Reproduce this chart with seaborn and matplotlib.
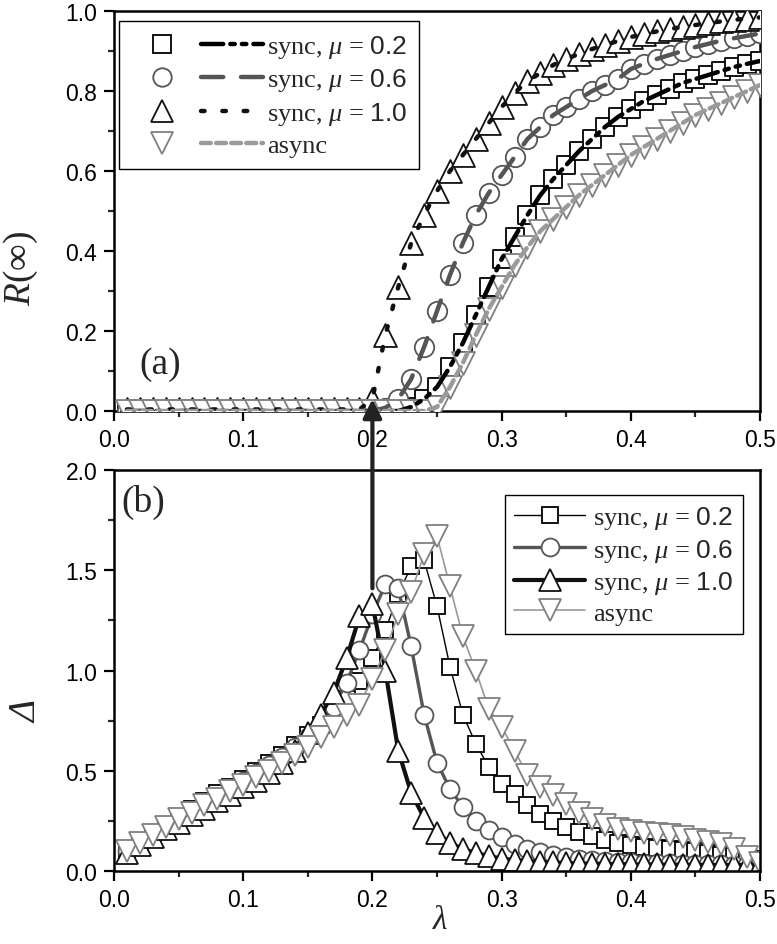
import matplotlib
matplotlib.use("Agg")
import matplotlib.pyplot as plt
import seaborn as sns
import pandas as pd
from matplotlib.lines import Line2D
from matplotlib.legend_handler import HandlerTuple
from matplotlib.patches import ConnectionPatch
from matplotlib.ticker import MultipleLocator, FormatStrFormatter

# lambda grid (spreading rate)
lam = [0.01, 0.02, 0.03, 0.04, 0.05, 0.06, 0.07, 0.08, 0.09, 0.10,
       0.11, 0.12, 0.13, 0.14, 0.15, 0.16, 0.17, 0.18, 0.19, 0.20,
       0.21, 0.22, 0.23, 0.24, 0.25, 0.26, 0.27, 0.28, 0.29, 0.30,
       0.31, 0.32, 0.33, 0.34, 0.35, 0.36, 0.37, 0.38, 0.39, 0.40,
       0.41, 0.42, 0.43, 0.44, 0.45, 0.46, 0.47, 0.48, 0.49, 0.50]

# (a) final outbreak size R(inf)
r_sync_02 = [0.0] * 22 + [0.01, 0.03, 0.06, 0.11, 0.17, 0.24, 0.31, 0.38, 0.435, 0.49,
                           0.54, 0.58, 0.615, 0.65, 0.68, 0.71, 0.735, 0.755, 0.775, 0.79,
                           0.805, 0.82, 0.83, 0.84, 0.85, 0.86, 0.868, 0.875]
r_sync_06 = [0.0] * 20 + [0.008, 0.03, 0.08, 0.16, 0.25, 0.34, 0.42, 0.49, 0.545, 0.59,
                           0.635, 0.68, 0.71, 0.74, 0.76, 0.78, 0.80, 0.815, 0.83, 0.855,
                           0.868, 0.88, 0.89, 0.90, 0.91, 0.918, 0.926, 0.932, 0.938, 0.944]
r_sync_10 = [0.004] * 19 + [0.03, 0.19, 0.31, 0.42, 0.49, 0.55, 0.60, 0.64, 0.68, 0.72,
                             0.76, 0.795, 0.825, 0.845, 0.865, 0.88, 0.893, 0.905, 0.915, 0.925,
                             0.935, 0.942, 0.949, 0.955, 0.96, 0.965, 0.97, 0.974, 0.978, 0.981,
                             0.984]
r_async = [0.0] * 24 + [0.01, 0.06, 0.12, 0.19, 0.255, 0.31, 0.365, 0.41, 0.45, 0.48,
                         0.51, 0.54, 0.565, 0.59, 0.615, 0.64, 0.66, 0.68, 0.70, 0.72,
                         0.74, 0.755, 0.77, 0.785, 0.80, 0.815]

# (b) variability Delta
d_sync_02 = [0.10, 0.15, 0.19, 0.23, 0.27, 0.31, 0.35, 0.39, 0.42, 0.46,
             0.50, 0.54, 0.58, 0.63, 0.68, 0.73, 0.79, 0.86, 0.95, 1.06,
             1.20, 1.38, 1.52, 1.55, 1.32, 1.02, 0.78, 0.635, 0.52, 0.435,
             0.385, 0.33, 0.285, 0.25, 0.22, 0.195, 0.175, 0.155, 0.14, 0.13,
             0.12, 0.115, 0.11, 0.105, 0.10, 0.09, 0.08, 0.075, 0.07, 0.06]
d_sync_06 = [0.10, 0.14, 0.18, 0.22, 0.26, 0.30, 0.34, 0.37, 0.41, 0.45,
             0.49, 0.53, 0.57, 0.62, 0.67, 0.74, 0.82, 0.94, 1.10, 1.28,
             1.43, 1.41, 1.12, 0.78, 0.54, 0.41, 0.32, 0.25, 0.205, 0.17,
             0.135, 0.11, 0.095, 0.08, 0.07, 0.062, 0.055, 0.05, 0.047, 0.044,
             0.042, 0.04, 0.038, 0.036, 0.035, 0.034, 0.033, 0.032, 0.031, 0.03]
d_sync_10 = [0.09, 0.13, 0.17, 0.21, 0.24, 0.28, 0.31, 0.35, 0.38, 0.42,
             0.45, 0.49, 0.54, 0.60, 0.69, 0.78, 0.89, 1.06, 1.27, 1.33,
             1.00, 0.60, 0.39, 0.265, 0.19, 0.14, 0.11, 0.09, 0.075, 0.062,
             0.055, 0.05, 0.046, 0.043, 0.04, 0.038, 0.037, 0.036, 0.035, 0.034,
             0.033, 0.033, 0.032, 0.032, 0.031, 0.031, 0.03, 0.03, 0.03, 0.03]
d_async = [0.10, 0.14, 0.18, 0.22, 0.26, 0.29, 0.33, 0.36, 0.40, 0.43,
           0.47, 0.50, 0.54, 0.58, 0.62, 0.67, 0.72, 0.78, 0.83, 0.96,
           1.10, 1.28, 1.39, 1.58, 1.67, 1.42, 1.17, 1.00, 0.81, 0.72,
           0.60, 0.48, 0.42, 0.38, 0.335, 0.29, 0.26, 0.23, 0.21, 0.20,
           0.19, 0.185, 0.18, 0.17, 0.155, 0.145, 0.135, 0.11, 0.07, 0.04]

labels = ['sync, $\\mu$ = $\\mathsf{0.2}$', 'sync, $\\mu$ = $\\mathsf{0.6}$',
          'sync, $\\mu$ = $\\mathsf{1.0}$', 'async']

df_r = pd.DataFrame({'lam': lam, 's02': r_sync_02, 's06': r_sync_06,
                     's10': r_sync_10, 'as': r_async})
df_d = pd.DataFrame({'lam': lam, 's02': d_sync_02, 's06': d_sync_06,
                     's10': d_sync_10, 'as': d_async})

sns.set_style('ticks')
plt.rcParams['font.family'] = ['Liberation Sans', 'DejaVu Sans']
plt.rcParams['mathtext.fontset'] = 'custom'
plt.rcParams['mathtext.rm'] = 'Liberation Serif'
plt.rcParams['mathtext.it'] = 'Liberation Serif:italic'
plt.rcParams['mathtext.sf'] = 'Liberation Sans'

fig = plt.figure(figsize=(7.77, 9.45), dpi=100)
ax_top = fig.add_axes([0.1467, 0.564, 0.8315, 0.4233])
ax_bot = fig.add_axes([0.1467, 0.0772, 0.8315, 0.4244])

# column, marker, marker size, marker edge colour, line colour, line width, dash pattern (top)
styles = [
    ('s02', 's', 13.0, '#000000', '#000000', 1.0, (5, 1.6, 1, 1.6, 1, 1.6)),
    ('s06', 'o', 14.0, '#555555', '#555555', 2.4, (5, 4)),
    ('s10', '^', 16.5, '#111111', '#111111', 3.0, (0.8, 4)),
    ('as', 'v', 16.5, '#808080', '#9a9a9a', 1.2, (2.2, 1.2)),
]

# ---- panel (a): markers, then dashed curves on top
for col, mk, ms, ec, lc, lw, dash in styles:
    sns.scatterplot(data=df_r, x='lam', y=col, ax=ax_top, marker=mk, s=ms ** 2,
                    color='white', edgecolor=ec, linewidth=1.3, zorder=3, legend=False,
                    clip_on=True)
top_handles = []
for col, mk, ms, ec, lc, lw, dash in styles:
    sns.lineplot(data=df_r, x='lam', y=col, ax=ax_top, color=lc, lw=3.2,
                 dashes=False, zorder=4)
    ln = ax_top.lines[-1]
    ln.set_dashes(dash)
    ln.set_dash_capstyle('round')
    mh = Line2D([], [], marker=mk, ls='none', mfc='white', mec=ec, ms=ms * 0.95, mew=1.3)
    lh = Line2D([], [], color=lc, lw=3.2, dashes=dash, dash_capstyle='round')
    top_handles.append((mh, lh))

ax_top.legend(top_handles, labels, loc='upper left', bbox_to_anchor=(0.1532, 0.9767),
              bbox_transform=fig.transFigure, borderaxespad=0, frameon=True, fancybox=False,
              edgecolor='black', framealpha=1, prop={'family': 'Liberation Serif', 'size': 19},
              handler_map={tuple: HandlerTuple(ndivide=None, pad=0.3)},
              handlelength=5.0, handletextpad=0.15, labelspacing=0.25, borderpad=0.45)

# ---- panel (b): simulation lines with open markers
for (col, mk, ms, ec, lc, lw, dash), lab in zip(styles, labels):
    sns.lineplot(data=df_d, x='lam', y=col, ax=ax_bot, color=lc, lw=lw, marker=mk,
                 markersize=ms * 0.92, markerfacecolor='white', markeredgecolor=ec,
                 markeredgewidth=1.3, label=lab)

ax_bot.legend(loc='upper right', bbox_to_anchor=(0.9562, 0.4751), bbox_transform=fig.transFigure,
              borderaxespad=0, frameon=True, fancybox=False, edgecolor='black', framealpha=1,
              prop={'family': 'Liberation Serif', 'size': 19}, handlelength=2.7,
              handletextpad=0.3, labelspacing=0.2, borderpad=0.35)

# ---- axes cosmetics
for ax, ymax, ystep in [(ax_top, 1.0, 0.2), (ax_bot, 2.0, 0.5)]:
    ax.set_xlim(0, 0.5)
    ax.set_ylim(0, ymax)
    ax.xaxis.set_major_locator(MultipleLocator(0.1))
    ax.xaxis.set_minor_locator(MultipleLocator(0.05))
    ax.yaxis.set_major_locator(MultipleLocator(ystep))
    ax.yaxis.set_minor_locator(MultipleLocator(ystep / 2))
    ax.xaxis.set_major_formatter(FormatStrFormatter('%.1f'))
    ax.yaxis.set_major_formatter(FormatStrFormatter('%.1f'))
    ax.tick_params(which='major', direction='out', length=7, width=1.6, labelsize=16.5, pad=5,
                   top=False, right=False, colors='black')
    ax.tick_params(which='minor', direction='out', length=4, width=1.6, top=False, right=False)
    for sp in ax.spines.values():
        sp.set_linewidth(1.8)
        sp.set_color('black')
    ax.set_xlabel('')
    ax.set_ylabel('')

ax_top.set_ylabel('$R$(∞)', fontsize=27, family='Liberation Serif')
ax_top.yaxis.set_label_coords(-0.115, 0.36)
ax_bot.set_ylabel('Δ', fontsize=27, family='Liberation Serif', style='italic')
ax_bot.yaxis.set_label_coords(-0.108, 0.40)
ax_bot.set_xlabel('λ', fontsize=24, family='Liberation Serif', style='italic')
ax_bot.xaxis.label.set_va('center')
ax_bot.xaxis.set_label_coords(0.505, -0.122)

ax_top.text(0.04, 0.075, '(a)', transform=ax_top.transAxes, fontsize=27,
            family='Liberation Serif', va='bottom', ha='left')
ax_bot.text(0.012, 0.965, '(b)', transform=ax_bot.transAxes, fontsize=27,
            family='Liberation Serif', va='top', ha='left')

# arrow from the peak of Delta up to the threshold in panel (a)
arrow = ConnectionPatch(xyA=(0.2, 1.41), coordsA=ax_bot.transData,
                        xyB=(0.2, 0.03), coordsB=ax_top.transData,
                        arrowstyle='-|>', color='#222222', lw=3, mutation_scale=28,
                        shrinkA=0, shrinkB=0, zorder=10)
fig.add_artist(arrow)

fig.savefig('out.png', dpi=100)
